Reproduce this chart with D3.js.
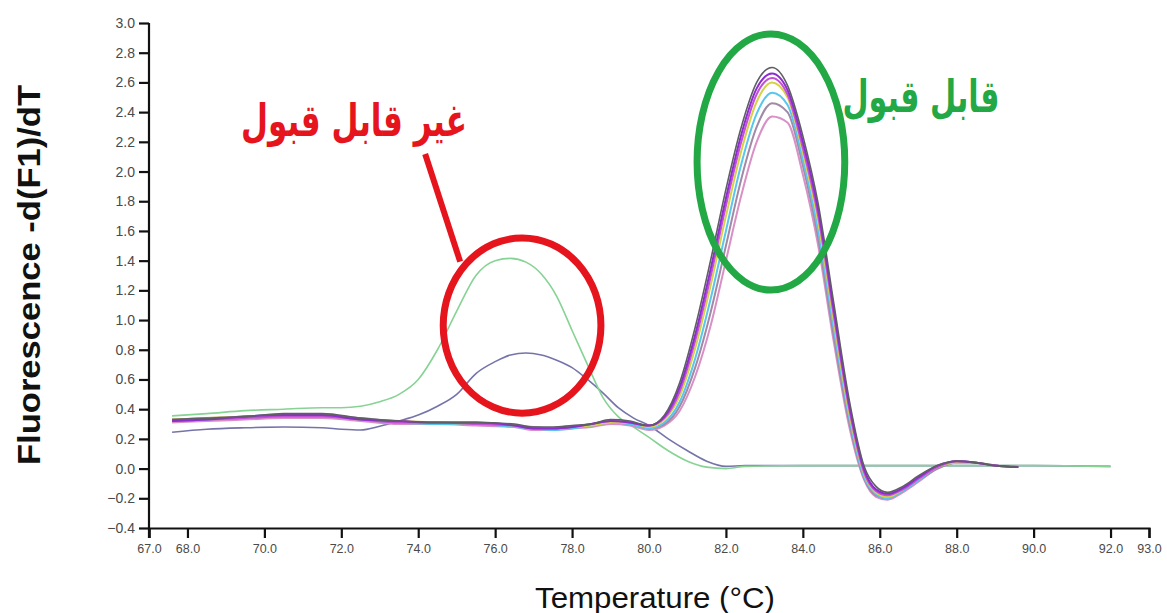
<!DOCTYPE html>
<html>
<head>
<meta charset="utf-8">
<script src="https://cdn.jsdelivr.net/npm/d3@7"></script>
<style>
  html, body { margin: 0; padding: 0; background: #fff; }
  svg { display: block; }
</style>
</head>
<body>
<svg id="chart" width="1167" height="613"></svg>
<script>
// Melt-curve derivative traces, -d(F1)/dT against temperature (°C)

// X axis tick values
const xTicks = [67, 68, 70, 72, 74, 76, 78, 80, 82, 84, 86, 88, 90, 92, 93];
// Y axis tick values
const yTicks = [-0.4, -0.2, 0.0, 0.2, 0.4, 0.6, 0.8, 1.0, 1.2, 1.4, 1.6, 1.8, 2.0, 2.2, 2.4, 2.6, 2.8, 3.0];

// Temperature grid shared by the single-peak (acceptable) traces
const tempAccepted = [67.6, 68.5, 69.5, 70.5, 71.5, 72.5, 73.5, 74.5, 75.5, 76.5, 77.0, 77.5, 78.0, 78.5, 79.0, 79.5, 80.0,
  80.4, 80.8, 81.2, 81.6, 82.0, 82.4, 82.8, 83.2, 83.6, 84.0, 84.4, 84.8, 85.2, 85.6, 85.9, 86.2, 86.6, 87.0, 87.5, 88.0, 88.5, 89.0, 89.6];

const acceptedGrey = [0.33, 0.34, 0.35, 0.37, 0.37, 0.34, 0.32, 0.31, 0.31, 0.30, 0.28, 0.28, 0.29, 0.30, 0.33, 0.32, 0.29,
  0.36, 0.58, 0.95, 1.40, 1.88, 2.30, 2.60, 2.70, 2.58, 2.24, 1.78, 1.12, 0.47, 0.01, -0.12, -0.16, -0.12, -0.05, 0.02, 0.05, 0.04, 0.02, 0.01];
const acceptedPurple = [0.32, 0.33, 0.35, 0.36, 0.36, 0.33, 0.32, 0.31, 0.31, 0.29, 0.27, 0.27, 0.28, 0.30, 0.32, 0.31, 0.29,
  0.35, 0.55, 0.90, 1.34, 1.82, 2.25, 2.56, 2.66, 2.55, 2.20, 1.74, 1.08, 0.44, -0.01, -0.14, -0.17, -0.13, -0.06, 0.02, 0.05, 0.04, 0.02, 0.01];
const acceptedMagenta = [0.32, 0.33, 0.34, 0.35, 0.35, 0.33, 0.31, 0.31, 0.30, 0.29, 0.27, 0.27, 0.28, 0.30, 0.32, 0.31, 0.29,
  0.34, 0.52, 0.86, 1.29, 1.77, 2.20, 2.52, 2.63, 2.52, 2.16, 1.70, 1.04, 0.41, -0.03, -0.15, -0.18, -0.14, -0.07, 0.01, 0.05, 0.04, 0.02, 0.01];
const acceptedYellow = [0.33, 0.34, 0.35, 0.36, 0.36, 0.33, 0.32, 0.31, 0.30, 0.29, 0.27, 0.27, 0.28, 0.29, 0.31, 0.31, 0.28,
  0.33, 0.49, 0.81, 1.23, 1.70, 2.14, 2.47, 2.60, 2.50, 2.13, 1.66, 1.00, 0.38, -0.04, -0.16, -0.19, -0.14, -0.07, 0.01, 0.04, 0.04, 0.02, 0.01];
const acceptedCyan = [0.32, 0.33, 0.35, 0.36, 0.36, 0.33, 0.31, 0.30, 0.30, 0.28, 0.27, 0.26, 0.27, 0.29, 0.31, 0.30, 0.27,
  0.31, 0.45, 0.74, 1.14, 1.60, 2.05, 2.39, 2.53, 2.45, 2.08, 1.60, 0.95, 0.35, -0.06, -0.17, -0.20, -0.15, -0.08, 0.01, 0.04, 0.04, 0.02, 0.01];
const acceptedMauve = [0.33, 0.34, 0.35, 0.36, 0.36, 0.34, 0.32, 0.31, 0.31, 0.29, 0.28, 0.27, 0.28, 0.29, 0.31, 0.30, 0.27,
  0.30, 0.42, 0.68, 1.05, 1.50, 1.95, 2.30, 2.46, 2.40, 2.04, 1.55, 0.90, 0.32, -0.07, -0.18, -0.20, -0.15, -0.08, 0.00, 0.04, 0.04, 0.02, 0.01];
const acceptedPink = [0.31, 0.32, 0.33, 0.34, 0.34, 0.32, 0.30, 0.30, 0.29, 0.28, 0.26, 0.26, 0.27, 0.28, 0.30, 0.29, 0.26,
  0.29, 0.39, 0.62, 0.96, 1.40, 1.84, 2.20, 2.37, 2.33, 1.98, 1.50, 0.86, 0.29, -0.08, -0.19, -0.21, -0.16, -0.09, 0.00, 0.04, 0.04, 0.02, 0.01];

// Temperature grid for the two low-melting (rejected) traces
const tempRejected = [67.6, 68.5, 69.5, 70.5, 71.5, 72.0, 72.5, 73.0, 73.5, 74.0, 74.5, 75.0, 75.5, 76.0, 76.4, 76.8, 77.2, 77.6,
  78.0, 78.4, 78.8, 79.2, 79.6, 80.0, 80.5, 81.0, 81.5, 82.0, 82.5, 84.0, 86.0, 88.0, 90.0, 92.0];
const rejectedGreen = [0.355, 0.37, 0.39, 0.40, 0.41, 0.41, 0.42, 0.45, 0.50, 0.60, 0.80, 1.06, 1.30, 1.40, 1.415, 1.39, 1.31, 1.16,
  0.93, 0.70, 0.48, 0.35, 0.28, 0.21, 0.12, 0.05, 0.01, 0.00, 0.015, 0.02, 0.02, 0.02, 0.02, 0.015];
const rejectedSlate = [0.245, 0.265, 0.275, 0.28, 0.275, 0.265, 0.26, 0.285, 0.32, 0.36, 0.42, 0.50, 0.64, 0.72, 0.765, 0.778, 0.765, 0.73,
  0.68, 0.60, 0.51, 0.41, 0.34, 0.29, 0.20, 0.12, 0.05, 0.015, 0.02, 0.02, 0.02, 0.02, 0.02, 0.015];

const series = [
  { temps: tempRejected, values: rejectedSlate,  color: "#7474aa", width: 1.6 },
  { temps: tempRejected, values: rejectedGreen,  color: "#86d394", width: 1.6 },
  { temps: tempAccepted, values: acceptedPink,   color: "#d890c6", width: 2 },
  { temps: tempAccepted, values: acceptedMauve,  color: "#a08aa6", width: 2 },
  { temps: tempAccepted, values: acceptedCyan,   color: "#58c6ee", width: 2 },
  { temps: tempAccepted, values: acceptedYellow, color: "#d6d248", width: 2 },
  { temps: tempAccepted, values: acceptedMagenta,color: "#c44fd8", width: 2 },
  { temps: tempAccepted, values: acceptedPurple, color: "#8e2cd0", width: 2 },
  { temps: tempAccepted, values: acceptedGrey,   color: "#5e5e64", width: 1.6 }
];

// Callout labels
const labelRejected = "غير قابل قبول";
const labelAccepted = "قابل قبول";

const svg = d3.select("#chart");
const x = d3.scaleLinear().domain([67, 93]).range([149, 1149]);
const y = d3.scaleLinear().domain([-0.4, 3.0]).range([528, 23]);

// Axes
const xAxis = svg.append("g")
  .attr("transform", `translate(0,${y(-0.4)})`)
  .call(d3.axisBottom(x).tickValues(xTicks).tickFormat(d3.format(".1f")).tickSize(10).tickPadding(6));
const yAxis = svg.append("g")
  .attr("transform", `translate(${x(67)},0)`)
  .call(d3.axisLeft(y).tickValues(yTicks).tickFormat(d3.format(".1f")).tickSize(10).tickPadding(4));

[xAxis, yAxis].forEach(g => {
  g.select(".domain").attr("stroke", "#111").attr("stroke-width", 2.2);
  g.selectAll(".tick line").attr("stroke", "#111").attr("stroke-width", 2.2);
  g.selectAll(".tick text")
    .attr("fill", "#4a4a4a")
    .attr("font-family", "Liberation Sans, Arial, sans-serif");
});
xAxis.selectAll(".tick text").attr("font-size", 12.5);
yAxis.selectAll(".tick text").attr("font-size", 14);
// y axis extends just below the x axis, crossing it
yAxis.select(".domain").attr("d", `M0,${y(3.0)}V${y(-0.4) + 10}`);

// Axis titles
svg.append("text")
  .attr("x", 655).attr("y", 608)
  .attr("text-anchor", "middle")
  .attr("font-family", "Liberation Sans, Arial, sans-serif")
  .attr("font-size", 30)
  .attr("textLength", 240)
  .attr("lengthAdjust", "spacingAndGlyphs")
  .attr("fill", "#111")
  .text("Temperature (°C)");

svg.append("text")
  .attr("transform", `translate(40,275) rotate(-90)`)
  .attr("text-anchor", "middle")
  .attr("font-family", "Liberation Sans, Arial, sans-serif")
  .attr("font-weight", "bold")
  .attr("font-size", 31)
  .attr("textLength", 380)
  .attr("lengthAdjust", "spacingAndGlyphs")
  .attr("fill", "#111")
  .text("Fluorescence -d(F1)/dT");

// Traces
const line = d3.line().curve(d3.curveMonotoneX);
svg.append("g").selectAll("path")
  .data(series)
  .join("path")
  .attr("fill", "none")
  .attr("stroke", d => d.color)
  .attr("stroke-width", d => d.width)
  .attr("stroke-linejoin", "round")
  .attr("d", d => line(d.temps.map((t, i) => [x(t), y(d.values[i])])));

// Annotations
const red = "#e5141d", green = "#22a844";
const ann = svg.append("g");

ann.append("ellipse")
  .attr("cx", x(76.7)).attr("cy", y(0.963))
  .attr("rx", x(76.7 + 2.05) - x(76.7)).attr("ry", y(0.963 - 0.59) - y(0.963))
  .attr("fill", "none").attr("stroke", red).attr("stroke-width", 7);

ann.append("line")
  .attr("x1", x(74.18)).attr("y1", y(2.118))
  .attr("x2", x(75.09)).attr("y2", y(1.393))
  .attr("stroke", red).attr("stroke-width", 6);

ann.append("ellipse")
  .attr("cx", x(83.17)).attr("cy", y(2.064))
  .attr("rx", x(83.17 + 1.92) - x(83.17)).attr("ry", y(2.064 - 0.862) - y(2.064))
  .attr("fill", "none").attr("stroke", green).attr("stroke-width", 7);

ann.append("text")
  .attr("x", x(72.33)).attr("y", y(2.34) + 15)
  .attr("text-anchor", "middle")
  .attr("direction", "rtl")
  .attr("font-family", "DejaVu Sans, sans-serif")
  .attr("font-weight", "bold")
  .attr("font-size", 45)
  .attr("textLength", 226)
  .attr("lengthAdjust", "spacingAndGlyphs")
  .attr("fill", red)
  .text(labelRejected);

ann.append("text")
  .attr("x", x(87.07)).attr("y", y(2.50) + 15)
  .attr("text-anchor", "middle")
  .attr("direction", "rtl")
  .attr("font-family", "DejaVu Sans, sans-serif")
  .attr("font-weight", "bold")
  .attr("font-size", 45)
  .attr("textLength", 157)
  .attr("lengthAdjust", "spacingAndGlyphs")
  .attr("fill", green)
  .text(labelAccepted);
</script>
</body>
</html>
